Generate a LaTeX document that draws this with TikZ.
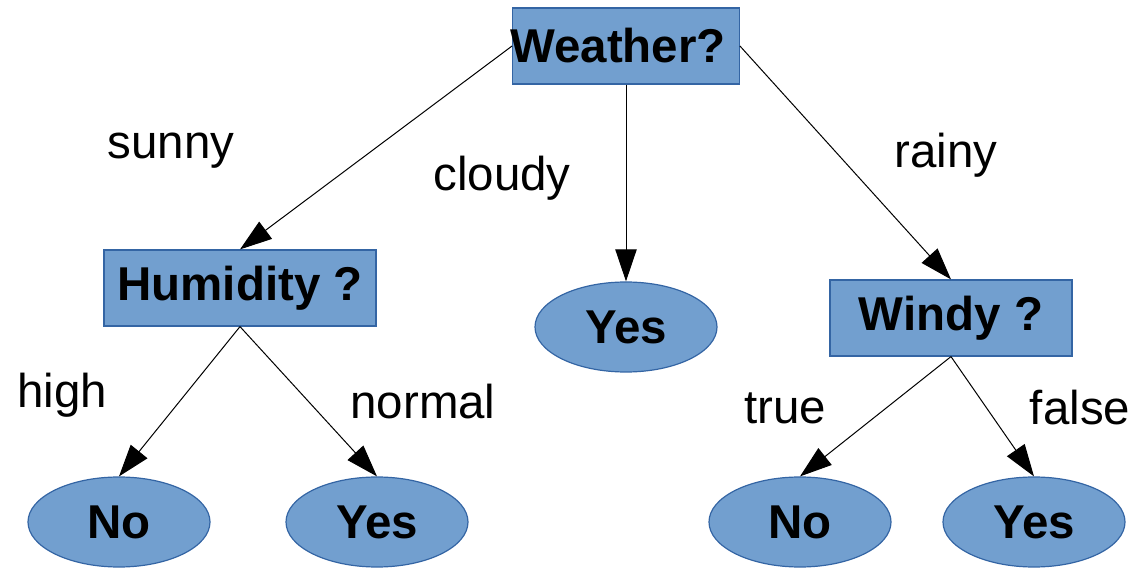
\documentclass[tikz,border=0pt]{standalone}
\usepackage{fontspec}
\setmainfont{Liberation Sans}
\usetikzlibrary{arrows.meta,shapes.geometric}
\definecolor{boxfill}{HTML}{729FCF}
\definecolor{boxline}{HTML}{3465A4}
\begin{document}
\begin{tikzpicture}[x=0.75pt,y=-0.75pt,
  qbox/.style={rectangle,draw=boxline,fill=boxfill,line width=0.9pt,inner sep=0pt,
    minimum height=57pt,font=\fontsize{35.6}{40}\selectfont\bfseries},
  leaf/.style={ellipse,draw=boxline,fill=boxfill,line width=0.9pt,inner sep=0pt,
    minimum width=136.5pt,minimum height=67.5pt,font=\fontsize{35.6}{40}\selectfont\bfseries},
  lbl/.style={inner sep=0pt,font=\fontsize{35.6}{40}\selectfont},
  edge/.style={draw=black,line width=0.75pt,-{Triangle[length=24pt,width=16pt]}}]
\useasboundingbox (0,0) rectangle (1140,570);
\node[qbox,minimum width=170pt] (w) at (626,46) {\hspace*{-12pt}Weather?};
\node[qbox,minimum width=204pt] (h) at (240,288) {Humidity ?};
\node[qbox,minimum width=181.5pt] (wi) at (951,318) {Windy ?};
\node[leaf] (y0) at (626,327) {Yes};
\node[leaf] (n1) at (119,522) {No};
\node[leaf] (y1) at (377,522) {Yes};
\node[leaf] (n2) at (800,522) {No};
\node[leaf] (y2) at (1034,522) {Yes};
\draw[edge] (w.west) -- (h.north);
\draw[edge] (w.south) -- (y0.north);
\draw[edge] (w.east) -- (wi.north);
\draw[edge] (h.south) -- (n1.north);
\draw[edge] (h.south) -- (y1.north);
\draw[edge] (wi.south) -- (n2.north);
\draw[edge] (wi.south) -- (y2.north);
\node[lbl] (lsunny) at (171,151) {sunny};
\node[lbl] (lcloudy) at (502,178) {cloudy};
\node[lbl] (lrainy) at (946,155) {rainy};
\node[lbl] (lhigh) at (62,395) {high};
\node[lbl] (lnormal) at (423,402) {normal};
\node[lbl] (ltrue) at (785,408) {true};
\node[lbl] (lfalse) at (1080,408) {false};
\end{tikzpicture}
\end{document}
